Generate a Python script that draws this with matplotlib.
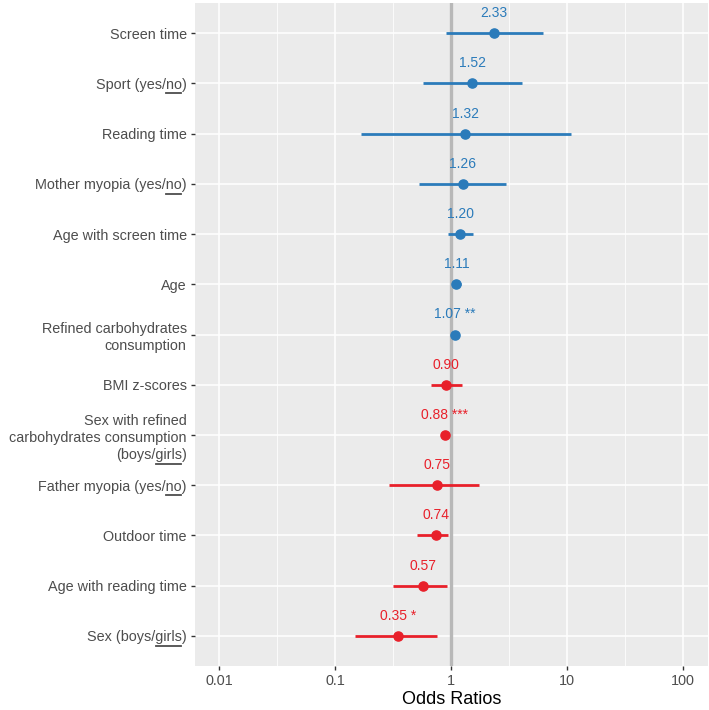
import matplotlib
matplotlib.use("Agg")
import matplotlib.pyplot as plt
from matplotlib.lines import Line2D
import numpy as np

plt.rcParams["font.family"] = ["Liberation Sans", "DejaVu Sans"]

# predictors, top to bottom
labels = [
    "Screen time",
    "Sport (yes/no)",
    "Reading time",
    "Mother myopia (yes/no)",
    "Age with screen time",
    "Age",
    "Refined carbohydrates\nconsumption",
    "BMI z-scores",
    "Sex with refined\ncarbohydrates consumption\n(boys/girls)",
    "Father myopia (yes/no)",
    "Outdoor time",
    "Age with reading time",
    "Sex (boys/girls)",
]
# part of the last label line that is underlined (reference category)
underlined = [None, "no", None, "no", None, None, None, None, "girls", "no", None, None, "girls"]

odds = [2.33, 1.52, 1.32, 1.26, 1.20, 1.11, 1.07, 0.90, 0.88, 0.75, 0.74, 0.57, 0.35]
ci_low = [0.90, 0.57, 0.168, 0.53, 0.93, 1.03, 1.04, 0.67, 0.85, 0.29, 0.51, 0.315, 0.147]
ci_high = [6.14, 4.10, 10.7, 2.95, 1.55, 1.22, 1.10, 1.24, 0.92, 1.75, 0.94, 0.92, 0.76]
stars = ["", "", "", "", "", "", " **", "", " ***", "", "", "", " *"]

BLUE = "#2b7bba"
RED = "#e8202a"
TXT = "#4d4d4d"

fig = plt.figure(figsize=(7.09, 7.10), dpi=100)
ax = fig.add_axes([195 / 709, 44 / 710, 513 / 709, 663 / 710])
ax.set_facecolor("#ebebeb")

n = len(labels)
ys = np.arange(n)[::-1]

ax.axvline(1, color="#b8b8b8", lw=2.4, zorder=2)

for y, o, lo, hi, s in zip(ys, odds, ci_low, ci_high, stars):
    c = BLUE if o > 1 else RED
    ax.plot([lo, hi], [y, y], color=c, lw=2.0, solid_capstyle="butt", zorder=3)
    ax.plot(o, y, "o", color=c, ms=6.6, zorder=4)
    ax.text(o, y + 0.4, f"{o:.2f}{s}", color=c, fontsize=10,
            ha="center", va="center", zorder=5)

ax.set_xscale("log")
ax.set_xlim(10 ** -2.21, 10 ** 2.215)
ax.set_ylim(-0.6, n - 0.4)

ax.set_xticks([0.01, 0.1, 1, 10, 100])
ax.set_xticklabels(["0.01", "0.1", "1", "10", "100"])
ax.set_xticks([10 ** -1.5, 10 ** -0.5, 10 ** 0.5, 10 ** 1.5], minor=True)
ax.xaxis.set_minor_formatter(plt.NullFormatter())
ax.set_yticks(ys)
ax.set_yticklabels(labels, linespacing=1.3)

ax.grid(which="major", color="white", lw=1.1)
ax.grid(which="minor", axis="x", color="white", lw=0.55)
ax.set_axisbelow(True)
for sp in ax.spines.values():
    sp.set_visible(False)
ax.tick_params(which="major", length=3, width=1, color="#333333",
               labelcolor=TXT, labelsize=10.4, pad=3)
ax.tick_params(which="minor", length=0)

ax.set_xlabel("Odds Ratios", fontsize=13, color="black", labelpad=2)

# draw the underlines below the reference categories
fig.canvas.draw()
r = fig.canvas.get_renderer()
fx = fig.transFigure.inverted()
for lab, sub, tl in zip(labels, underlined, ax.get_yticklabels()):
    if sub is None:
        continue
    last = lab.split("\n")[-1]
    suffix = last[last.rindex(sub) + len(sub):]
    fp = tl.get_fontproperties()
    bb = tl.get_window_extent(r)
    w_suf = r.get_text_width_height_descent(suffix, fp, ismath=False)[0]
    w_all = r.get_text_width_height_descent(sub + suffix, fp, ismath=False)[0]
    d = r.get_text_width_height_descent(last, fp, ismath=False)[2]
    y = bb.y0 + d - 4.5
    x0, x1 = bb.x1 - w_all + 0.5, bb.x1 - w_suf - 0.5
    p0 = fx.transform((x0, y))
    p1 = fx.transform((x1, y))
    fig.add_artist(Line2D([p0[0], p1[0]], [p0[1], p1[1]], color=TXT, lw=1.3,
                          transform=fig.transFigure))

fig.savefig("out.png", dpi=100)
